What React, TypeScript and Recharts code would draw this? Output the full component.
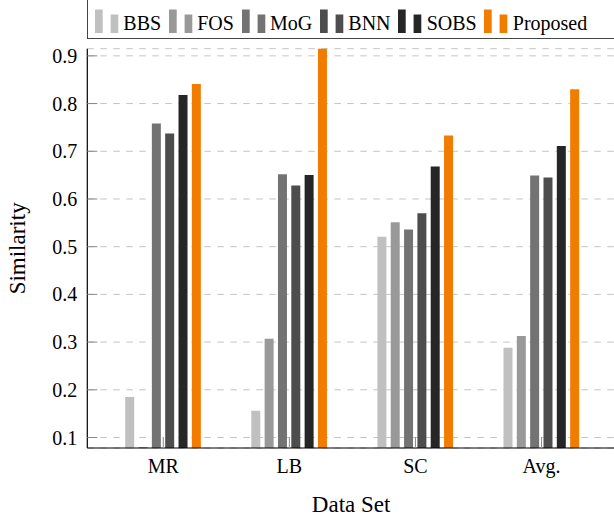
import { BarChart, Bar, XAxis, YAxis, CartesianGrid } from "recharts";

const font = "'Liberation Serif', 'Times New Roman', serif";

const categories = ["MR", "LB", "SC", "Avg."];
const bbs = [0.185, 0.156, 0.521, 0.288];
const fos = [0.08, 0.307, 0.551, 0.313];
const mog = [0.758, 0.652, 0.536, 0.649];
const bnn = [0.737, 0.628, 0.57, 0.645];
const sobs = [0.818, 0.65, 0.668, 0.711];
const proposed = [0.841, 0.93, 0.733, 0.83];
const yTicks = [0.1, 0.2, 0.3, 0.4, 0.5, 0.6, 0.7, 0.8, 0.9];

const series = [
  { key: "bbs", name: "BBS", color: "#c0c0c0", values: bbs },
  { key: "fos", name: "FOS", color: "#999999", values: fos },
  { key: "mog", name: "MoG", color: "#737373", values: mog },
  { key: "bnn", name: "BNN", color: "#4d4d4d", values: bnn },
  { key: "sobs", name: "SOBS", color: "#262626", values: sobs },
  { key: "proposed", name: "Proposed", color: "#f27c00", values: proposed },
];

const data = categories.map((name, i) => {
  const row: Record<string, string | number> = { name };
  series.forEach((s) => (row[s.key] = s.values[i]));
  return row;
});

const domain: [number, number] = [0.078, 0.915];
const xPad = { left: 12.9, right: 10.4 };
const tickStyle = { fontSize: 20, fill: "#000", fontFamily: font };

function LegendBox() {
  return (
    <div
      style={{
        position: "absolute",
        left: 87,
        top: -2,
        width: 600,
        height: 41,
        border: "1px solid #444",
        boxSizing: "border-box",
        display: "flex",
        alignItems: "flex-end",
        paddingLeft: 7,
        fontFamily: font,
        fontSize: 20,
        background: "#fff",
      }}
    >
      {series.map((s) => (
        <div key={s.key} style={{ display: "flex", alignItems: "flex-end", marginRight: 7.8, height: 36 }}>
          <svg width={28.3} height={24} style={{ display: "block", marginBottom: 5 }}>
            <rect x={0} y={0.5} width={7.7} height={23.5} fill={s.color} />
            <rect x={15.6} y={5.5} width={7.7} height={18.5} fill={s.color} />
          </svg>
          <span style={{ lineHeight: "20px", marginBottom: 5 }}>{s.name}</span>
        </div>
      ))}
    </div>
  );
}

export default function App() {
  return (
    <div
      style={{
        position: "absolute",
        left: 0,
        top: 0,
        width: 614,
        height: 518,
        overflow: "hidden",
        background: "#fff",
      }}
    >
      <BarChart
        width={620}
        height={518}
        data={data}
        barSize={9}
        barGap={4.33}
        margin={{ top: 48.7, right: 5, bottom: 0, left: 27.3 }}
      >
        <CartesianGrid vertical={false} stroke="#c4c4c4" strokeDasharray="6.5 6.5" />
        <XAxis
          dataKey="name"
          height={70}
          padding={xPad}
          tickSize={-11}
          tickMargin={21.5}
          tick={tickStyle}
          tickLine={{ stroke: "#888" }}
          axisLine={{ stroke: "#000", strokeWidth: 1.2 }}
          label={{
            content: ({ viewBox }: any) => (
              <text
                x={viewBox.x + viewBox.width / 2}
                y={viewBox.y + viewBox.height - 6.3}
                textAnchor="middle"
                fontSize={23}
                fontFamily={font}
                fill="#000"
              >
                Data Set
              </text>
            ),
          }}
        />
        <XAxis
          xAxisId="top"
          orientation="top"
          dataKey="name"
          height={0}
          padding={xPad}
          tickSize={-11}
          tickFormatter={() => ""}
          tickLine={{ stroke: "#888" }}
          axisLine={{ stroke: "#000", strokeWidth: 1.2 }}
        />
        <YAxis
          width={60}
          domain={domain}
          ticks={yTicks}
          allowDataOverflow
          tickSize={-10}
          tickMargin={20}
          tick={tickStyle}
          tickLine={{ stroke: "#888" }}
          axisLine={{ stroke: "#000", strokeWidth: 1.2 }}
          label={{
            content: ({ viewBox }: any) => {
              const x = viewBox.x - 2.3;
              const y = viewBox.y + viewBox.height / 2;
              return (
                <text
                  x={x}
                  y={y}
                  transform={`rotate(-90 ${x} ${y})`}
                  textAnchor="middle"
                  fontSize={23}
                  fontFamily={font}
                  fill="#000"
                >
                  Similarity
                </text>
              );
            },
          }}
        />
        <YAxis
          yAxisId="right"
          orientation="right"
          width={0}
          domain={domain}
          ticks={yTicks}
          allowDataOverflow
          tickSize={-10}
          tickFormatter={() => ""}
          tickLine={{ stroke: "#888" }}
          axisLine={{ stroke: "#000", strokeWidth: 1.2 }}
        />
        {series.map((s) => (
          <Bar key={s.key} dataKey={s.key} name={s.name} fill={s.color} isAnimationActive={false} />
        ))}
      </BarChart>
      <LegendBox />
    </div>
  );
}
